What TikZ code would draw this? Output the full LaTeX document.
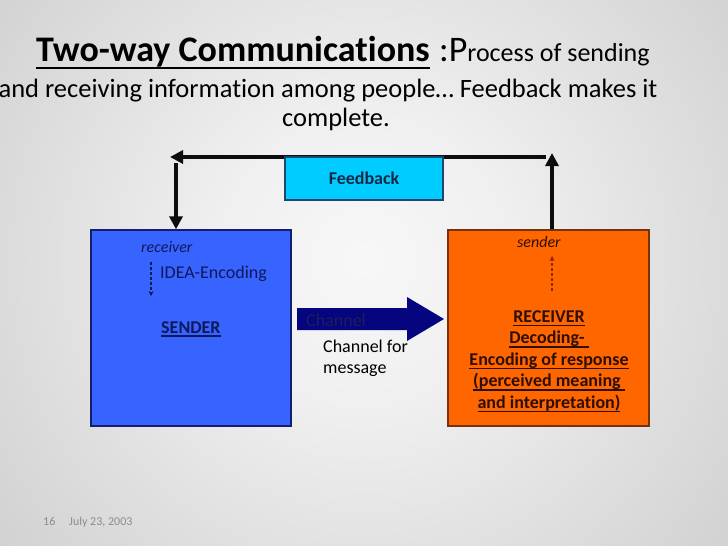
\documentclass[tikz,border=0pt]{standalone}
\usepackage{fontspec}
\setmainfont[Ligatures=NoCommon]{Carlito}
\usetikzlibrary{arrows.meta}
\definecolor{sblue}{RGB}{55,100,255}
\definecolor{sbord}{RGB}{20,30,110}
\definecolor{stext}{RGB}{15,25,90}
\definecolor{orng}{RGB}{255,102,0}
\definecolor{obord}{RGB}{120,50,10}
\definecolor{otext}{RGB}{45,15,5}
\definecolor{odash}{RGB}{150,40,10}
\definecolor{cyanb}{RGB}{0,204,255}
\definecolor{cbord}{RGB}{30,70,110}
\definecolor{ctext}{RGB}{15,40,70}
\definecolor{navyc}{RGB}{5,5,128}
\definecolor{chtext}{RGB}{30,30,85}
\definecolor{foot}{RGB}{140,140,140}
\definecolor{bga}{gray}{0.97}
\definecolor{bgb}{gray}{0.94}
\definecolor{bgc}{gray}{0.79}
\definecolor{bgd}{gray}{0.69}
\definecolor{bge}{gray}{0.655}
\pgfdeclareradialshading{bgshade}{\pgfpointorigin}{color(0bp)=(bga); color(8bp)=(bgb); color(30bp)=(bgc); color(40bp)=(bgd); color(50bp)=(bge)}
\newcommand\uln[1]{\setbox0\hbox{#1}\rlap{\vrule width\wd0 height -2.2pt depth 3.6pt}\box0}
\begin{document}
\begin{tikzpicture}[x=1pt,y=-1pt,
  boxst/.style={draw, line width=1.4pt, minimum height=196pt, inner sep=0pt},
  fbarrow/.style={line width=4.5pt, draw=black!95, -{Triangle[length=13pt,width=13pt]}},
  dasharrow/.style={line width=1.1pt, dash pattern=on 3pt off 2pt, -{Stealth[length=5pt,width=5pt]}},
  bodyf/.style={font=\fontsize{18}{21.5}\selectfont},
  ital/.style={font=\fontsize{16}{19}\selectfont\itshape},
  txt/.style={inner sep=0pt}]
\useasboundingbox (0,0) rectangle (728,546);
\begin{scope}
\clip (0,0) rectangle (728,546);
\shade[shading=bgshade] (-91,-195) rectangle (819,715);
\end{scope}

% title
\node[txt, anchor=base west, font=\fontsize{36}{43}\selectfont\bfseries] (t1a) at (36,61) {Two-way Communications};
\node[txt, anchor=base west, font=\fontsize{36}{43}\selectfont] (t1b) at ([xshift=9pt]t1a.base east) {:P\fontsize{26}{31}\selectfont rocess of sending};
\draw[line width=2.5pt] ([yshift=-7pt]t1a.base west) -- ([yshift=-7pt]t1a.base east);
\node[txt, anchor=base, font=\fontsize{26.5}{31}\selectfont] (t2) at (328,97) {and receiving information among people… Feedback makes it};
\node[txt, anchor=base, font=\fontsize{26.5}{31}\selectfont] (t3) at (336,126) {complete.};

% boxes
\node[boxst, fill=sblue, draw=sbord, minimum width=200pt] (sender) at (191,328) {};
\node[boxst, fill=orng, draw=obord, minimum width=201pt] (receiver) at (548.5,328) {};

% feedback loop
\coordinate (topR) at (552,153);
\coordinate (fbR) at (546,157);
\coordinate (fbL) at (170,157);
\coordinate (topL) at (176,163);
\draw[fbarrow] (receiver.north -| topR) -- (topR);
\draw[fbarrow] (fbR) -- (fbL);
\draw[fbarrow] (topL) -- (sender.north -| topL);
\node[draw=cbord, fill=cyanb, line width=1.2pt, minimum width=158pt, minimum height=43pt, inner sep=0pt,
      font=\fontsize{18}{21}\selectfont\bfseries, text=ctext] (fb) at (364,178.5) {Feedback};

% sender contents
\node[txt, ital, text=stext, anchor=base west] (srecv) at (141,252) {receiver};
\coordinate (sd1) at (151,262);
\coordinate (sd2) at (151,296);
\draw[dasharrow, stext] (sd1) -- (sd2);
\node[txt, bodyf, text=stext, anchor=base west] (idea) at (160,278) {IDEA-Encoding};
\node[txt, text=stext, anchor=base west, font=\fontsize{18}{21}\selectfont\bfseries] (sname) at (161,333) {\uln{SENDER}};

% receiver contents
\node[txt, ital, text=otext, anchor=base west] (rsend) at (517,247) {sender};
\coordinate (rd1) at (552,291);
\coordinate (rd2) at (552,256);
\draw[dasharrow, odash] (rd1) -- (rd2);
\node[txt, text=otext, anchor=north, align=center, font=\fontsize{18}{21.5}\selectfont\bfseries] (rname) at (549,310.4)
  {\uln{RECEIVER}\\ \uln{Decoding-\ }\\ \uln{Encoding of response}\\ \uln{(perceived meaning\ }\\ \uln{and interpretation)}};

% channel
\fill[navyc] (297,308) -- (407,308) -- (407,297) -- (444,319) -- (407,341) -- (407,330) -- (297,330) -- cycle;
\node[txt, bodyf, text=chtext, anchor=base west] (chl) at (306,326) {Channel};
\node[txt, text=black, anchor=north west, align=left, font=\fontsize{18}{20.5}\selectfont] (chm) at (323,340) {Channel for\\message};

% footer
\node[txt, text=foot, anchor=base west, font=\fontsize{12}{14}\selectfont] (pg) at (43,525) {16};
\node[txt, text=foot, anchor=base west, font=\fontsize{12}{14}\selectfont] (dt) at (69,525) {July 23, 2003};
\end{tikzpicture}
\end{document}
